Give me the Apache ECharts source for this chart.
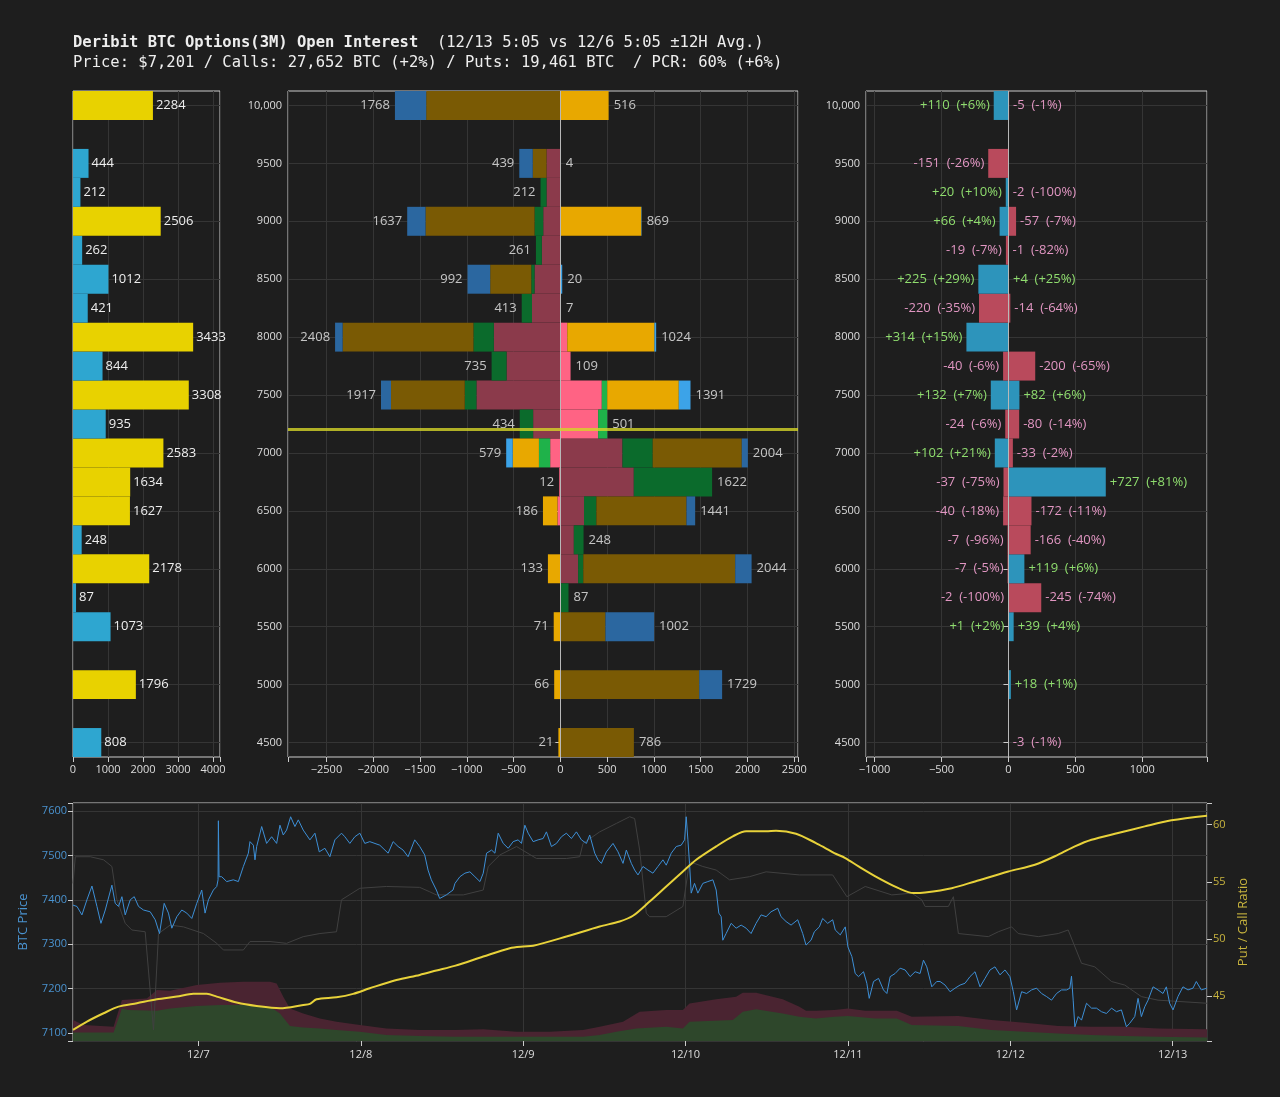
<!DOCTYPE html>
<html><head><meta charset="utf-8">
<script src="https://cdn.jsdelivr.net/npm/echarts@6/dist/echarts.min.js"></script>
<style>html,body{margin:0;padding:0;background:#1e1e1e;}#c{width:1280px;height:1097px;}</style>
</head><body><div id="c"></div>
<script>
// ---------- DATA ----------
const titleLine1Bold = 'Deribit BTC Options(3M) Open Interest';
const titleLine1 = '  (12/13 5:05 vs 12/6 5:05 ±12H Avg.)';
const titleLine2 = 'Price: $7,201 / Calls: 27,652 BTC (+2%) / Puts: 19,461 BTC  / PCR: 60% (+6%)';
const spotPrice = 7201;

const strikes = [4500,4750,5000,5250,5500,5750,6000,6250,6500,6750,7000,7250,7500,7750,8000,8250,8500,8750,9000,9250,9500,9750,10000];
const totalOI = [808,0,1796,0,1073,87,2178,248,1627,1634,2583,935,3308,844,3433,421,1012,262,2506,212,444,0,2284];

const putTotal  = [21,0,66,0,71,0,133,0,186,12,579,434,1917,735,2408,413,992,261,1637,212,439,0,1768];
const callTotal = [786,0,1729,0,1002,87,2044,248,1441,1622,2004,501,1391,109,1024,7,20,0,869,0,4,0,516];

// puts by expiry (1 = nearest ... 4 = farthest)
const putE1 = [0,0,0,0,0,0,0,0,31,12,109,291,897,575,711,303,276,198,183,148,148,0,0];
const putE2 = [0,0,0,0,0,0,0,0,0,0,120,143,125,160,218,110,35,63,93,64,0,0,0];
const putE3 = [21,0,66,0,71,0,133,0,155,0,280,0,788,0,1398,0,439,0,1165,0,147,0,1434];
const putE4 = [0,0,0,0,0,0,0,0,0,0,70,0,107,0,81,0,242,0,196,0,144,0,334];
// calls by expiry
const callE1 = [0,0,0,0,0,0,190,144,253,785,664,404,443,109,74,7,0,0,0,0,0,0,0];
const callE2 = [0,0,0,0,0,87,55,104,132,837,323,97,58,0,0,0,0,0,0,0,0,0,0];
const callE3 = [786,0,1484,0,482,0,1624,0,963,0,952,0,765,0,932,0,0,0,865,0,0,0,516];
const callE4 = [0,0,245,0,520,0,175,0,93,0,65,0,125,0,18,0,20,0,4,0,4,0,0];

// change vs 12/6
const putChange = [null,null,null,null,1,-2,-7,-7,-40,-37,102,-24,132,-40,314,-220,225,-19,66,20,-151,null,110];
const putPct    = ['','','','','+2%','-100%','-5%','-96%','-18%','-75%','+21%','-6%','+7%','-6%','+15%','-35%','+29%','-7%','+4%','+10%','-26%','','+6%'];
const callChange = [-3,null,18,null,39,-245,119,-166,-172,727,-33,-80,82,-200,null,-14,4,-1,-57,-2,null,null,-5];
const callPct    = ['-1%','','+1%','','+4%','-74%','+6%','-40%','-11%','+81%','-2%','-14%','+6%','-65%','','-64%','+25%','-82%','-7%','-100%','','','-1%'];

// time series: hours since 2019-12-06 00:00 UTC
const priceHours = [5.46,6.05,6.78,7.52,8.26,9.00,9.59,10.23,11.21,11.70,12.19,12.69,13.18,13.92,14.51,15.15,15.88,16.87,17.61,18.25,18.94,19.57,20.07,20.81,21.54,22.28,23.02,23.75,24.49,24.98,25.48,26.21,26.71,26.90,26.95,27.05,27.44,28.18,29.16,29.90,30.64,31.38,31.62,32.12,32.36,32.61,33.35,34.08,34.82,35.56,36.05,36.54,37.03,37.63,38.26,38.76,39.49,40.48,41.22,41.86,42.69,43.43,44.17,45.15,45.64,46.38,47.12,47.86,48.59,49.33,50.81,52.04,52.78,53.51,54.25,54.99,55.97,56.71,57.45,57.94,58.43,59.17,59.66,60.64,61.63,61.92,62.65,63.39,64.13,64.87,65.61,66.10,66.59,67.33,67.82,68.31,69.05,69.79,70.52,71.26,71.75,72.25,72.74,73.48,74.21,74.95,75.44,76.18,76.92,77.66,78.39,79.13,79.87,80.61,81.35,81.84,82.58,83.07,83.56,84.30,85.28,86.02,86.76,87.25,87.99,88.48,88.97,89.71,90.45,91.18,91.92,92.66,93.15,93.89,94.63,95.36,95.86,96.10,96.35,96.59,96.84,97.33,97.82,98.56,99.30,100.04,100.53,100.92,101.27,101.51,102.00,102.74,103.48,104.22,104.96,105.69,106.43,107.17,107.91,108.64,109.63,110.12,110.86,111.60,112.58,113.32,113.81,114.55,115.04,115.78,116.27,117.01,117.75,118.13,118.87,119.61,120.00,120.59,121.08,121.57,122.31,122.80,123.15,123.79,124.53,125.26,125.76,126.25,126.98,127.72,128.46,129.20,129.94,130.67,131.17,131.66,132.40,133.13,133.63,134.36,135.10,135.84,136.58,137.31,138.05,138.79,139.53,140.27,141.00,141.74,142.48,143.22,143.95,144.45,144.94,145.68,146.41,147.15,147.89,148.63,149.37,150.10,150.84,151.58,152.32,152.81,153.05,153.30,153.55,154.04,154.53,155.27,156.01,156.74,157.48,158.22,158.96,159.70,160.43,161.17,161.66,162.40,162.89,163.38,163.88,164.37,165.11,165.84,166.58,167.07,167.56,168.06,168.79,169.53,170.27,171.01,171.50,172.24,173.08];
const priceValues = [7388,7385,7366,7400,7431,7385,7347,7377,7433,7392,7385,7407,7366,7400,7407,7385,7377,7373,7355,7324,7392,7370,7336,7362,7377,7370,7358,7392,7422,7370,7400,7422,7430,7445,7578,7452,7452,7441,7445,7441,7475,7505,7531,7523,7490,7520,7565,7527,7542,7527,7568,7546,7557,7587,7565,7580,7557,7535,7550,7508,7516,7497,7535,7550,7542,7527,7542,7550,7527,7531,7523,7505,7531,7520,7512,7497,7535,7520,7501,7467,7445,7422,7403,7411,7422,7437,7452,7460,7463,7452,7441,7460,7505,7512,7505,7550,7527,7516,7531,7535,7527,7568,7550,7531,7535,7538,7553,7520,7527,7542,7550,7538,7553,7535,7527,7546,7505,7490,7482,7508,7527,7508,7482,7512,7482,7467,7456,7475,7467,7460,7475,7490,7478,7505,7520,7523,7535,7587,7535,7482,7415,7437,7415,7437,7441,7445,7422,7370,7362,7309,7324,7347,7336,7343,7336,7324,7347,7366,7362,7373,7381,7362,7351,7343,7355,7324,7298,7309,7328,7339,7358,7347,7355,7332,7321,7339,7294,7272,7234,7227,7238,7212,7178,7216,7223,7197,7189,7227,7234,7246,7242,7227,7238,7234,7264,7249,7204,7216,7216,7208,7193,7201,7208,7212,7227,7238,7204,7223,7242,7249,7231,7242,7227,7193,7152,7193,7189,7197,7201,7189,7182,7174,7189,7197,7197,7201,7228,7174,7114,7137,7129,7167,7156,7156,7148,7144,7156,7148,7152,7114,7122,7137,7178,7137,7159,7174,7204,7197,7189,7204,7167,7152,7182,7204,7197,7201,7216,7197,7201];

const grayHours = [5.46,5.80,8.01,9.98,11.21,11.95,13.18,14.16,16.13,17.36,18.10,19.82,21.79,24.74,26.71,27.69,30.64,31.62,34.58,37.03,39.49,41.95,44.41,45.15,47.86,51.79,56.71,58.19,59.17,63.15,66.10,66.84,68.56,71.02,73.97,78.39,80.36,80.85,83.31,85.77,87.74,88.48,89.22,90.20,90.69,93.15,95.61,96.59,98.56,100.53,102.50,105.45,107.91,112.83,117.75,119.85,122.56,126.49,129.44,130.92,131.41,134.85,135.59,136.33,140.76,142.23,144.20,145.18,148.14,151.09,152.56,154.53,156.50,158.96,160.92,163.38,165.84,173.08];
const grayValues = [7437,7497,7497,7490,7475,7400,7347,7332,7328,7107,7324,7343,7339,7324,7302,7287,7287,7306,7306,7302,7317,7324,7328,7400,7426,7430,7428,7418,7411,7411,7422,7475,7501,7520,7493,7493,7497,7527,7553,7572,7587,7583,7512,7370,7362,7362,7385,7486,7475,7467,7445,7452,7463,7456,7456,7407,7430,7411,7415,7400,7385,7385,7407,7324,7317,7328,7339,7324,7317,7324,7332,7257,7249,7216,7208,7182,7174,7167];

const pcrHours = [5.46,7.52,9.98,12.19,14.90,17.85,20.80,23.26,25.23,26.70,29.66,32.60,36.05,39.50,40.48,41.46,44.40,46.87,49.33,53.27,56.71,59.17,61.87,66.10,70.03,72.00,73.48,78.39,83.31,86.26,88.23,90.69,93.15,95.61,97.58,100.53,102.99,104.96,107.91,109.38,112.33,115.28,116.66,117.99,119.61,121.57,124.53,127.48,129.69,131.41,135.35,138.79,143.71,147.64,151.09,153.55,156.01,159.94,163.88,167.82,173.08];
const pcrValues = [42.02,42.75,43.48,44.06,44.36,44.70,44.94,45.18,45.18,44.94,44.42,44.12,43.92,44.21,44.30,44.70,44.88,45.18,45.67,46.40,46.84,47.22,47.63,48.45,49.18,49.33,49.39,50.20,51.08,51.52,52.02,53.27,54.59,55.90,56.93,58.10,58.98,59.42,59.42,59.47,59.21,58.39,57.95,57.51,57.08,56.35,55.32,54.44,54.01,54.06,54.44,55.03,55.90,56.49,57.37,58.10,58.68,59.27,59.85,60.38,60.79];

const callVolHours = [5.46,11.46,12.69,13.67,17.85,19.82,23.75,27.20,30.64,34.58,36.05,37.53,39.49,41.95,44.41,47.86,51.79,56.71,61.87,80.85,83.31,85.77,88.72,93.15,95.61,96.59,102.99,104.46,106.43,110.37,112.83,115.28,117.99,120.00,124.03,127.23,129.44,136.33,141.25,146.17,151.09,156.01,160.92,165.84,173.08];
const callVolValues = [3.6,3.6,13.7,13.0,12.7,13.7,14.7,15.1,15.1,14.4,11.6,6.3,5.7,5.3,4.6,3.9,2.5,2.1,1.8,1.8,2.5,3.9,5.3,6.0,5.3,8.1,8.8,12.3,13.3,11.6,10.2,9.5,10.2,10.5,9.5,9.5,6.7,6.3,4.6,3.9,3.2,2.5,2.1,1.8,1.5];
const putVolHours = [5.46,7.03,11.46,12.69,16.38,17.85,19.82,23.75,27.20,30.64,34.58,35.56,36.54,37.53,39.49,41.95,44.41,47.86,51.79,56.71,61.87,66.10,71.02,75.94,80.85,83.31,86.76,89.22,93.15,95.61,96.59,100.53,103.48,104.46,106.43,110.37,112.83,113.81,115.28,117.99,120.00,122.56,127.23,129.44,136.33,141.25,146.17,151.09,156.01,160.92,165.84,173.08];
const putVolValues = [8.8,6.7,6.0,17.2,17.9,21.4,21.1,23.5,24.5,24.9,24.9,24.2,18.6,13.7,11.6,9.5,8.1,6.7,5.3,4.6,4.6,4.9,3.9,3.9,4.6,6.0,8.1,12.3,13.0,13.0,15.8,17.5,18.6,20.3,20.3,17.5,14.4,12.7,12.7,13.0,13.7,12.7,12.7,10.2,10.5,8.8,7.7,6.3,6.0,6.0,5.3,4.9];

// ---------- STYLE ----------
const FONT = "'Open Sans', 'Noto Sans', sans-serif";
const MONO = "'DejaVu Sans Mono', monospace";
const GRIDC = '#353535';
const DARK = ['#8b3a4b','#0b6b2c','#7a5a04','#2b67a0'];
const BRIGHT = ['#ff6384','#1fb24a','#e8a800','#3ca3e8'];
const BIGC = '#e8d200', SMALLC = '#2ea6d0';
const UPC = '#2d94bb', DOWNC = '#b94a5c';
const UPT = '#8fdd6e', DOWNT = '#e196c2';

const fmtStrike = v => v >= 10000 ? v.toLocaleString('en-US') : String(v);
const fmtSigned = v => v < 0 ? '\u2212' + (-v) : String(v);
const t = h => Date.UTC(2019, 11, 6) + h * 3600000;
const pairs = (hs, vs) => hs.map((h, i) => [t(h), vs[i]]);

function catY(gi, showLabels) {
  return {type: 'category', gridIndex: gi, data: strikes.map(String), boundaryGap: true,
    axisLine: {show: false},
    axisTick: {show: showLabels, interval: 1, alignWithLabel: true, length: 5, lineStyle: {color: '#ccc'}},
    axisLabel: {show: showLabels, interval: 1, color: '#ddd', fontSize: 11, fontFamily: FONT, margin: 6,
      formatter: v => fmtStrike(+v)},
    splitLine: {show: true, interval: 1, alignWithLabel: true, lineStyle: {color: GRIDC}}};
}
function valX(gi, min, max, step, extra) {
  return Object.assign({type: 'value', gridIndex: gi, min, max,
    axisLine: {show: false},
    axisTick: {show: true, length: 5, lineStyle: {color: '#ccc'}},
    axisLabel: {color: '#ddd', fontSize: 11, fontFamily: FONT, margin: 7,
      formatter: v => (Math.abs(v % step) < 1e-6 ? fmtSigned(v) : '')},
    splitLine: {show: true, lineStyle: {color: GRIDC}}}, extra || {});
}

const series = [];

// left panel: total OI
series.push({type: 'bar', xAxisIndex: 0, yAxisIndex: 0, barCategoryGap: '0%', silent: true,
  data: totalOI.map(v => v ? {value: v, itemStyle: {color: v >= 1500 ? BIGC : SMALLC}} : '-'),
  label: {show: true, position: 'right', distance: 3, color: '#eee', fontSize: 13, fontFamily: FONT}
});

// middle panel: stacked by expiry
const putSeg = [putE1, putE2, putE3, putE4];
const callSeg = [callE1, callE2, callE3, callE4];
putSeg.forEach((arr, k) => series.push({type: 'bar', xAxisIndex: 1, yAxisIndex: 1, stack: 'oi', barCategoryGap: '0%', silent: true,
  data: arr.map((v, i) => ({value: -v, itemStyle: {color: strikes[i] > spotPrice ? DARK[k] : BRIGHT[k]}}))}));
callSeg.forEach((arr, k) => series.push({type: 'bar', xAxisIndex: 1, yAxisIndex: 1, stack: 'oi', barCategoryGap: '0%', silent: true,
  data: arr.map((v, i) => ({value: v, itemStyle: {color: strikes[i] < spotPrice ? DARK[k] : BRIGHT[k]}}))}));
// total labels
series.push({type: 'scatter', xAxisIndex: 1, yAxisIndex: 1, symbolSize: 0, silent: true, z: 4,
  data: putTotal.map((v, i) => [-v, i, v]).filter(d => d[2] > 0),
  label: {show: true, position: 'left', distance: 5, color: '#eee', fontSize: 13, fontFamily: FONT, formatter: p => p.value[2]}});
series.push({type: 'scatter', xAxisIndex: 1, yAxisIndex: 1, symbolSize: 0, silent: true, z: 4,
  data: callTotal.map((v, i) => [v, i, v]).filter(d => d[2] > 0),
  label: {show: true, position: 'right', distance: 5, color: '#eee', fontSize: 13, fontFamily: FONT, formatter: p => p.value[2]}});
// price line + zero line
series.push({type: 'scatter', xAxisIndex: 1, yAxisIndex: 2, symbolSize: 0, silent: true, data: [[0, spotPrice]],
  markLine: {silent: true, symbol: 'none', label: {show: false}, animation: false,
    data: [
      {xAxis: 0, lineStyle: {color: '#b8b8b8', width: 1, type: 'solid'}},
      {yAxis: spotPrice, lineStyle: {color: 'rgba(212,212,40,0.8)', width: 3, type: 'solid'}}
    ]}});

// right panel: change
const chgLabel = (v, pct) => (v > 0 ? '+' : '') + v + '  (' + pct + ')';
series.push({type: 'bar', xAxisIndex: 2, yAxisIndex: 3, stack: 'chg', barCategoryGap: '0%', silent: true,
  data: putChange.map((v, i) => v == null ? '-' : {value: -Math.abs(v), itemStyle: {color: v >= 0 ? UPC : DOWNC},
    label: {show: true, position: 'left', distance: 4, color: v >= 0 ? UPT : DOWNT, fontSize: 13, fontFamily: FONT,
      formatter: () => chgLabel(v, putPct[i])}})});
series.push({type: 'bar', xAxisIndex: 2, yAxisIndex: 3, stack: 'chg', barCategoryGap: '0%', silent: true,
  data: callChange.map((v, i) => v == null ? '-' : {value: Math.abs(v), itemStyle: {color: v >= 0 ? UPC : DOWNC},
    label: {show: true, position: 'right', distance: 4, color: v >= 0 ? UPT : DOWNT, fontSize: 13, fontFamily: FONT,
      formatter: () => chgLabel(v, callPct[i])}})});
series.push({type: 'scatter', xAxisIndex: 2, yAxisIndex: 3, symbolSize: 0, silent: true, data: [[0, 0]],
  markLine: {silent: true, symbol: 'none', label: {show: false}, animation: false,
    data: [{xAxis: 0, lineStyle: {color: '#b8b8b8', width: 1, type: 'solid'}}]}});

// bottom panel
series.push({type: 'line', xAxisIndex: 3, yAxisIndex: 6, data: pairs(putVolHours, putVolValues), showSymbol: false, silent: true,
  lineStyle: {width: 0}, areaStyle: {color: '#4a2431', opacity: 1}, z: 1});
series.push({type: 'line', xAxisIndex: 3, yAxisIndex: 6, data: pairs(callVolHours, callVolValues), showSymbol: false, silent: true,
  lineStyle: {width: 0}, areaStyle: {color: '#2e472b', opacity: 1}, z: 1});
series.push({type: 'line', xAxisIndex: 3, yAxisIndex: 4, data: pairs(grayHours, grayValues), showSymbol: false, silent: true,
  lineStyle: {width: 1, color: '#404040'}, z: 2});
series.push({type: 'line', xAxisIndex: 3, yAxisIndex: 4, data: pairs(priceHours, priceValues), showSymbol: false, silent: true,
  lineStyle: {width: 1, color: '#3d8fd6'}, z: 3});
series.push({type: 'line', xAxisIndex: 3, yAxisIndex: 5, data: pairs(pcrHours, pcrValues), showSymbol: false, silent: true, smooth: 0.3,
  lineStyle: {width: 2, color: '#e8d23a'}, z: 4});

const option = {
  backgroundColor: '#1e1e1e',
  animation: false,
  useUTC: true,
  textStyle: {fontFamily: FONT},
  title: {
    left: 73, top: 33, padding: 0,
    text: '{b|' + titleLine1Bold + '}{n|' + titleLine1 + '}\n{n|' + titleLine2 + '}',
    textStyle: {fontWeight: 'normal', rich: {
      b: {fontFamily: MONO, fontWeight: 'bold', fontSize: 15.5, color: '#eee', lineHeight: 20},
      n: {fontFamily: MONO, fontWeight: 'normal', fontSize: 15.5, color: '#eee', lineHeight: 20}
    }}
  },
  grid: [
    {left: 73, top: 91, width: 147, height: 666, show: true, borderColor: '#ccc', borderWidth: 1},
    {left: 288, top: 91, width: 510, height: 666, show: true, borderColor: '#ccc', borderWidth: 1},
    {left: 866, top: 91, width: 341, height: 666, show: true, borderColor: '#ccc', borderWidth: 1},
    {left: 73, top: 803, width: 1134, height: 238, show: true, borderColor: '#ccc', borderWidth: 1}
  ],
  xAxis: [
    valX(0, 0, 4200, 1000, {interval: 1000}),
    valX(1, -2911, 2540, 500, {splitNumber: 10}),
    valX(2, -1064, 1483, 500, {splitNumber: 5}),
    {type: 'time', gridIndex: 3, min: t(priceHours[0]), max: t(priceHours[priceHours.length - 1]),
      minInterval: 86400000, maxInterval: 86400000,
      axisLine: {show: false},
      axisTick: {show: true, length: 5, lineStyle: {color: '#ccc'}},
      axisLabel: {color: '#ddd', fontSize: 11, fontFamily: FONT, margin: 8,
        formatter: v => { const d = new Date(v); return (d.getUTCMonth() + 1) + '/' + d.getUTCDate(); }},
      splitLine: {show: true, lineStyle: {color: GRIDC}}}
  ],
  yAxis: [
    catY(0, false),
    catY(1, true),
    {type: 'value', gridIndex: 1, min: strikes[0] - 125, max: strikes[strikes.length - 1] + 125, show: false, splitLine: {show: false}},
    catY(2, true),
    {type: 'value', gridIndex: 3, min: 7082, max: 7618, splitNumber: 5, position: 'left',
      axisLine: {show: false}, axisTick: {show: true, length: 5, lineStyle: {color: '#ccc'}},
      axisLabel: {color: '#4a93d0', fontSize: 11, fontFamily: FONT, margin: 6, formatter: v => (v % 100 === 0 ? v : '')},
      splitLine: {show: true, lineStyle: {color: GRIDC}},
      name: 'BTC Price', nameLocation: 'middle', nameGap: 43, nameRotate: 90, nameMoveOverlap: false,
      nameTextStyle: {color: '#4a93d0', fontSize: 13, fontFamily: FONT}},
    {type: 'value', gridIndex: 3, min: 41.05, max: 61.9, splitNumber: 5, position: 'right',
      axisLine: {show: false}, axisTick: {show: true, length: 5, lineStyle: {color: '#ccc'}},
      axisLabel: {color: '#c8b43e', fontSize: 11, fontFamily: FONT, margin: 6, formatter: v => (v % 5 === 0 ? v : '')},
      splitLine: {show: false},
      name: 'Put / Call Ratio', nameLocation: 'middle', nameGap: 30, nameRotate: 90,
      nameTextStyle: {color: '#c8b43e', fontSize: 13, fontFamily: FONT}},
    {type: 'value', gridIndex: 3, min: 0, max: 100, show: false, splitLine: {show: false}}
  ],
  series
};

const chart = echarts.init(document.getElementById('c'));
chart.setOption(option);
</script></body></html>
